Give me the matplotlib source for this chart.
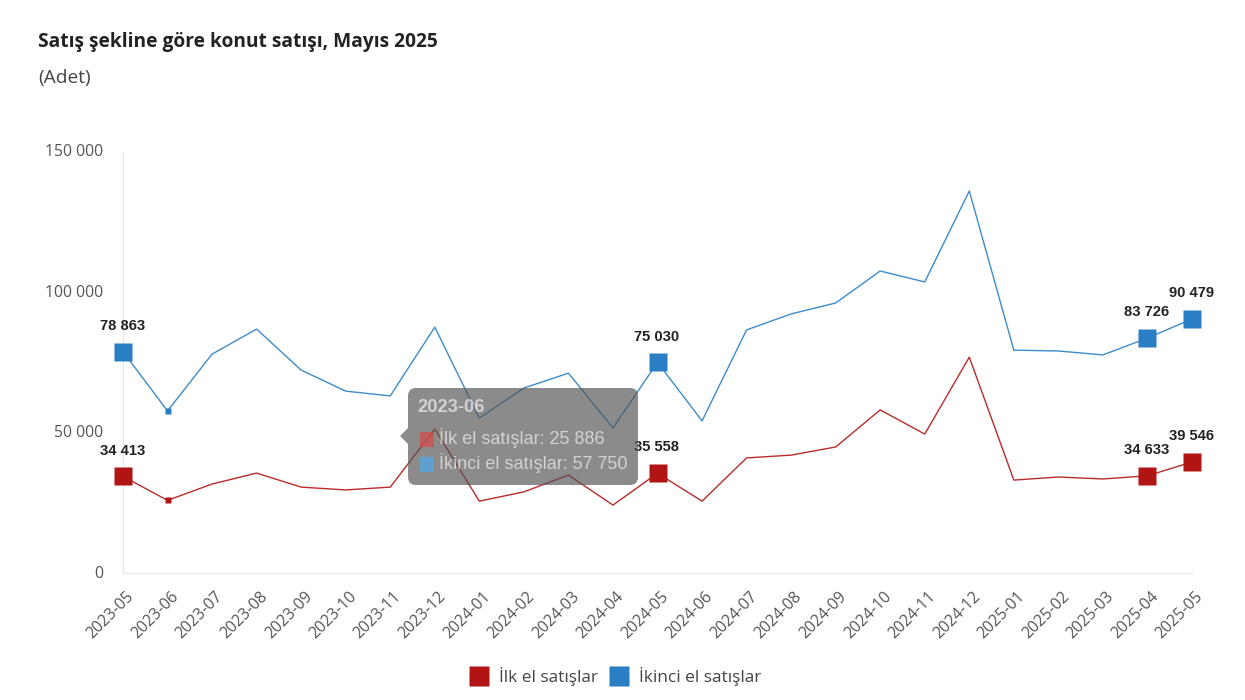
#!/usr/bin/env python3
import matplotlib
matplotlib.use("Agg")
import matplotlib.pyplot as plt
from matplotlib.lines import Line2D
from matplotlib.patches import FancyBboxPatch, Polygon, Rectangle
from matplotlib.transforms import Affine2D, ScaledTranslation

months = ["2023-05", "2023-06", "2023-07", "2023-08", "2023-09", "2023-10", "2023-11", "2023-12",
          "2024-01", "2024-02", "2024-03", "2024-04", "2024-05", "2024-06", "2024-07", "2024-08",
          "2024-09", "2024-10", "2024-11", "2024-12", "2025-01", "2025-02", "2025-03", "2025-04", "2025-05"]
first_hand = [34413, 25886, 31700, 35600, 30600, 29600, 30600, 51300,
              25600, 28900, 34900, 24200, 35558, 25600, 41000, 42000,
              44900, 58100, 49500, 76900, 33100, 34200, 33500, 34633, 39546]
second_hand = [78863, 57750, 78000, 86900, 72300, 64800, 63100, 87600,
               55200, 65900, 71200, 51700, 75030, 54200, 86600, 92300,
               96200, 107600, 103700, 136100, 79400, 79100, 77700, 83726, 90479]
labelled = [0, 12, 23, 24]
hover = 1
y_ticks = [0, 50000, 100000, 150000]

RED = "#b01513"
BLUE = "#2a7fc4"
W, H = 1245, 700


def fmt(v):
    return f"{v:,}".replace(",", " ")


fig = plt.figure(figsize=(W / 100, H / 100), dpi=100)
# axes placed in pixels: x 123-1192, y 152-573 from the top
ax = fig.add_axes([123 / W, 1 - 573 / H, (1192 - 123) / W, (573 - 152) / H])

x = list(range(len(months)))
ax.plot(x, first_hand, color=RED, lw=1.0, alpha=0.9, clip_on=False, zorder=3)
ax.plot(x, second_hand, color=BLUE, lw=1.0, alpha=0.9, clip_on=False, zorder=3)

for s, col in ((first_hand, RED), (second_hand, BLUE)):
    ax.plot([x[i] for i in labelled], [s[i] for i in labelled], ls="none", marker="s", ms=13,
            color=col, mec="none", clip_on=False, zorder=4)
    ax.plot(x[hover], s[hover], ls="none", marker="s", ms=5, color=col, mec="none", clip_on=False, zorder=4)
    for i in labelled:
        ax.annotate(fmt(s[i]), (x[i], s[i]), xytext=(-0.5, 13.5), textcoords="offset points", ha="center",
                    va="bottom", fontsize=10.6, fontweight="bold", family="Liberation Sans",
                    color="#222222", zorder=5)

ax.set_xlim(0, len(months) - 1)
ax.set_ylim(0, 150000)
ax.set_yticks(y_ticks)
ax.set_yticklabels([fmt(v) for v in y_ticks], family="Open Sans", fontsize=11.3, color="#555555")
ax.set_xticks(x)
ax.set_xticklabels(months, rotation=45, ha="right", rotation_mode="anchor", family="Open Sans",
                   fontsize=11.4, color="#555555")
ax.tick_params(axis="y", length=0, pad=14)
ax.tick_params(axis="x", length=0, pad=11)
for lab in ax.get_yticklabels():
    lab.set_transform(lab.get_transform() + ScaledTranslation(0, 1.5 / 100, fig.dpi_scale_trans))
for lab in ax.get_xticklabels():
    lab.set_transform(lab.get_transform() + ScaledTranslation(3 / 100, 0, fig.dpi_scale_trans))
for side in ("top", "right"):
    ax.spines[side].set_visible(False)
for side in ("left", "bottom"):
    ax.spines[side].set_color("#e8e8e8")
    ax.spines[side].set_linewidth(1.0)

fig.text(38 / W, 1 - 41.5 / H, "Satış şekline göre konut satışı, Mayıs 2025", family="Open Sans",
         fontweight="bold", fontsize=13.75, color="#222222", va="center")
fig.text(38 / W, 1 - 78.5 / H, "(Adet)", family="Open Sans", fontsize=13.8, color="#444444", va="center")

# legend
handles = [Line2D([], [], ls="none", marker="s", ms=14.5, color=RED, mec="none"),
           Line2D([], [], ls="none", marker="s", ms=14.5, color=BLUE, mec="none")]
fig.legend(handles, ["İlk el satışlar", "İkinci el satışlar"], loc="center", ncol=2,
           bbox_to_anchor=(615 / W, 1 - 677 / H), frameon=False, handletextpad=0.55, columnspacing=0.6,
           handlelength=1.2, prop={"family": "Open Sans", "size": 12.4}, labelcolor="#444444")

# tooltip, in pixel coordinates of the figure
to_fig = Affine2D().scale(1 / W, -1 / H).translate(0, 1) + fig.transFigure
GREY = (0.33, 0.33, 0.33, 0.68)
fig.add_artist(FancyBboxPatch((414, 394), 218, 85, boxstyle="round,pad=6,rounding_size=8", fc=GREY,
                              ec="none", transform=to_fig, zorder=10))
fig.add_artist(Polygon([(408, 428), (400, 436), (408, 444)], closed=True, fc=GREY, ec="none",
                       transform=to_fig, zorder=10))
tip = dict(transform=to_fig, family="Liberation Sans", color="white", alpha=0.62, va="center", zorder=11)
fig.text(417, 408, months[hover], fontsize=13.2, fontweight="bold", **tip)
fig.text(439, 438, f"İlk el satışlar: {fmt(first_hand[hover])}", fontsize=13, **tip)
fig.text(439, 463, f"İkinci el satışlar: {fmt(second_hand[hover])}", fontsize=13, **tip)
fig.add_artist(Rectangle((420, 432), 14, 15, fc="#d84a48", ec="none", alpha=0.7, transform=to_fig, zorder=11))
fig.add_artist(Rectangle((420, 457), 14, 15, fc="#4fa6e8", ec="none", alpha=0.75, transform=to_fig, zorder=11))

fig.savefig("out.png", dpi=100, facecolor="white")
